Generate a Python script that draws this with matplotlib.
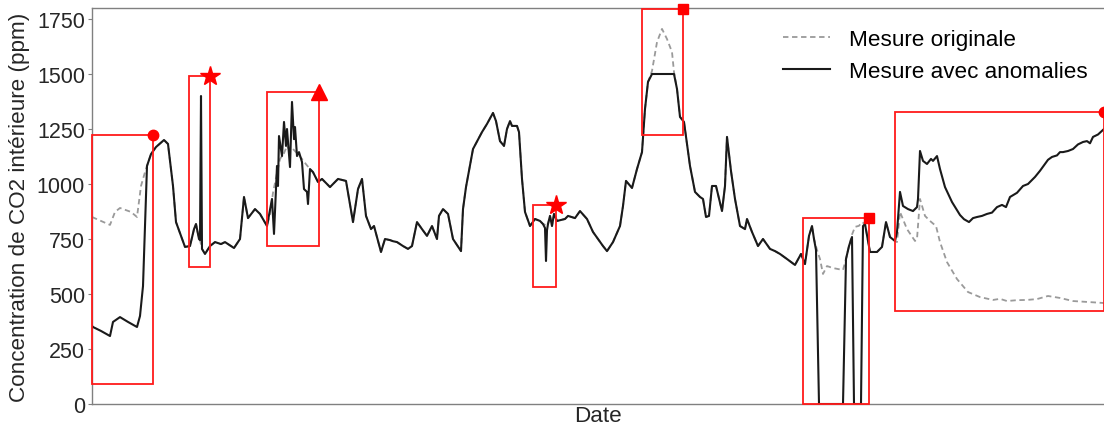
import matplotlib
matplotlib.use("Agg")
import matplotlib.pyplot as plt
from matplotlib.patches import Rectangle
import numpy as np

plt.rcParams['font.family'] = ['Liberation Sans', 'DejaVu Sans']

# ---- data (time index in hours, CO2 in ppm) ----
# points shared by both series (outside anomaly windows)
time_common = [55, 59, 64, 72, 76, 81, 84, 93, 98, 102, 104, 107, 108, 110,
               113, 118, 123, 129, 133, 142, 148, 152, 156, 163, 168, 175,
               226, 230, 238, 246, 254, 261, 266, 270, 274, 279, 282, 285, 289, 293, 298, 301, 305,
               311, 316, 320, 325, 330, 335, 340, 345, 347, 351, 356, 361, 369, 371, 374, 381,
               390, 395, 401, 404, 408, 412, 415, 418, 420, 425, 427, 430, 433, 438, 443, 448, 451,
               456, 458, 460, 462, 465, 473, 476, 483, 488, 495, 501, 511, 515, 521, 528, 531,
               534, 540, 545, 550, 553, 556,
               585, 588, 592, 598, 603, 608, 611, 614, 617, 620, 624, 630, 633, 635, 639, 643,
               648, 653, 655, 660, 666, 671, 678, 683, 688, 695, 703, 709, 713, 717, 720, 722,
               754, 757, 773, 778, 785, 790, 794, 798, 803]
co2_common = [1082, 1136, 1168, 1200, 1182, 991, 827, 714, 718, 795, 818, 750, 745, 705,
              682, 718, 736, 727, 736, 709, 750, 941, 845, 886, 864, 809,
              1009, 1023, 986, 1023, 1014, 827, 977, 1023, 855, 795, 809, 759, 691, 750, 745, 740, 736,
              718, 705, 718, 827, 795, 764, 809, 750, 855, 886, 864, 750, 695, 886, 986, 1159,
              1236, 1273, 1323, 1286, 1195, 1173, 1250, 1286, 1264, 1264, 1236, 1023, 873, 809, 841, 832, 818,
              818, 855, 809, 864, 832, 841, 855, 845, 877, 841, 782, 718, 695, 736, 809, 900,
              1014, 982, 1068, 1145, 1341, 1464,
              1432, 1305, 1282, 1082, 964, 941, 932, 850, 855, 991, 991, 877, 991, 1214, 1059, 932,
              809, 795, 841, 782, 718, 750, 705, 695, 682, 659, 632, 682, 636, 764, 809, 750,
              659, 718, 818, 691, 691, 714, 827, 759, 741]

# points of the series with anomalies inside the anomaly windows
time_anomaly = [0, 1, 9, 18, 21, 28, 36, 45, 48, 51, 53,
                109,
                180, 182, 185, 186, 187, 190, 192, 194, 195, 198, 200, 202, 203, 205, 207, 210,
                212, 215, 216, 218, 221,
                453, 454, 455,
                560, 582,
                724, 727, 751, 760, 762, 769, 771,
                805, 808, 811, 816, 821, 825, 826, 828, 831, 835, 839, 841, 845, 848, 853, 860,
                868, 872, 877, 881, 885, 890, 895, 900, 905, 910, 914, 918, 925, 931, 936, 943,
                948, 953, 956, 960, 965, 968, 971, 976, 981, 986, 991, 995, 998, 1001, 1006, 1012]
co2_anomaly = [355, 350, 332, 309, 373, 395, 373, 350, 400, 536, 809,
               1400,
               932, 773, 1082, 991, 1218, 1127, 1282, 1173, 1250, 1077, 1373, 1204, 1259, 1127, 1145, 1100,
               977, 964, 909, 1068, 1054,
               800, 650, 790,
               1500, 1500,
               700, 0, 0, 759, 0, 0, 809,
               782, 964, 900, 886, 877, 895, 932, 1150, 1105, 1091, 1114, 1105, 1127, 1068, 986, 918,
               859, 840, 827, 845, 850, 855, 864, 870, 895, 905, 895, 941, 960, 991, 1000, 1032,
               1060, 1091, 1110, 1123, 1130, 1145, 1145, 1150, 1159, 1180, 1191, 1195, 1185, 1214, 1225, 1250]

# points of the original measurement inside the anomaly windows
time_original = [0, 9, 18, 23, 28, 39, 45, 49, 53,
                 109,
                 178, 181, 185, 188, 192, 195, 198, 201, 205, 210, 214, 218, 221,
                 453, 454, 455,
                 560, 565, 570, 575, 580, 582,
                 725, 728, 731, 735, 741, 751, 760, 763, 767, 770,
                 805, 808, 815, 823, 825, 828, 833, 838, 844, 848, 855, 865, 876, 888, 901, 908,
                 915, 925, 935, 945, 956, 968, 981, 995, 1012]
co2_original = [850, 832, 814, 873, 891, 873, 850, 991, 1054,
                725,
                860, 960, 1050, 1114, 1140, 1173, 1150, 1159, 1140, 1114, 1090, 1068, 1054,
                815, 825, 825,
                1514, 1645, 1705, 1659, 1600, 1509,
                700, 659, 591, 627, 618, 609, 770, 805, 810, 827,
                736, 873, 795, 741, 750, 932, 855, 832, 809, 736, 645, 568, 509, 486, 473, 478,
                468, 472, 473, 477, 491, 482, 468, 464, 459]

# anomaly windows: start, end, lower, upper, marker kind
win_start = [0, 97, 175, 441, 550, 711, 803]
win_end = [61, 118, 227, 464, 591, 777, 1012]
win_low = [91, 623, 720, 532, 1223, 0, 424]
win_high = [1223, 1489, 1420, 905, 1795, 845, 1329]
win_marker = ['o', '*', '^', '*', 's', 's', 'o']

yticks = [0, 250, 500, 750, 1000, 1250, 1500, 1750]


def merge(t_a, v_a, t_b, v_b):
    t = np.concatenate([t_a, t_b])
    v = np.concatenate([v_a, v_b])
    order = np.argsort(t, kind='stable')
    return t[order], v[order]


t_orig, v_orig = merge(time_common, co2_common, time_original, co2_original)
t_anom, v_anom = merge(time_common, co2_common, time_anomaly, co2_anomaly)

fig = plt.figure(figsize=(11.04, 4.27), dpi=100)
ax = fig.add_axes([92 / 1104, 22 / 427, 1013 / 1104, 396 / 427])

ax.plot(t_orig, v_orig, color='#9a9a9a', lw=1.3, linestyle=(0, (3, 2)),
        label='Mesure originale', zorder=2)
ax.plot(t_anom, v_anom, color='#1a1a1a', lw=1.5, label='Mesure avec anomalies', zorder=3)

marker_size = {'o': 7.5, '*': 15, '^': 12, 's': 7}
for x0, x1, y0, y1, m in zip(win_start, win_end, win_low, win_high, win_marker):
    ax.add_patch(Rectangle((x0, y0), x1 - x0, y1 - y0, fill=False,
                           edgecolor='#ff1a1a', lw=1.3, clip_on=False, zorder=4))
    ax.plot([x1], [y1], marker=m, color='red', ms=marker_size[m],
            linestyle='none', clip_on=False, zorder=5)

ax.set_xlim(0, 1013)
ax.set_ylim(0, 1800)
ax.set_yticks(yticks)
ax.set_xticks([])
ax.tick_params(axis='y', labelsize=15.5, length=3, color='#808080', labelcolor='#262626', pad=2)
for side in ['left', 'top', 'bottom', 'right']:
    ax.spines[side].set_color('#808080')
    ax.spines[side].set_linewidth(1.0)

ax.set_ylabel('Concentration de CO2 intérieure (ppm)', fontsize=16.2, color='#262626', labelpad=5)
ax.set_xlabel('Date', fontsize=16.2, color='#262626', labelpad=1)

ax.legend(loc='upper left', bbox_to_anchor=(0.682, 0.948), frameon=False, fontsize=16.2,
          borderpad=0, borderaxespad=0, handlelength=2.1, handletextpad=0.85, labelspacing=0.5)

fig.savefig('out.png', dpi=100)
